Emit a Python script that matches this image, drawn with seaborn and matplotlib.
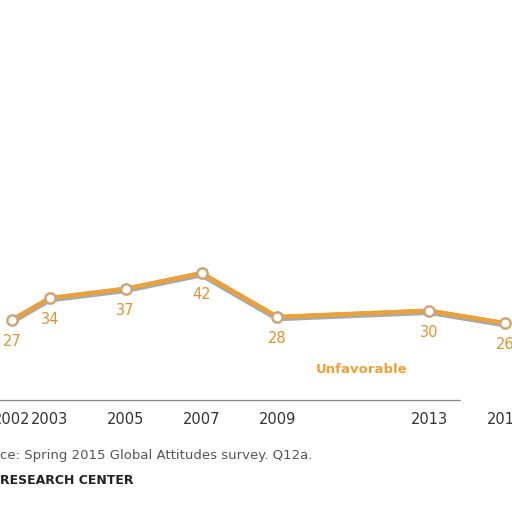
import matplotlib
matplotlib.use("Agg")
import matplotlib.pyplot as plt
import seaborn as sns
import pandas as pd

years = [2002, 2003, 2005, 2007, 2009, 2013, 2015]
unfavorable = [27, 34, 37, 42, 28, 30, 26]
tick_labels = ["2002", "2003", "2005", "2007", "2009", "2013", "2015"]

sns.set_style("white")
plt.rcParams['font.family'] = ['DejaVu Sans']

fig = plt.figure(figsize=(5.12, 5.12), dpi=100)
ax = fig.add_axes([0, 0, 1, 1])
df = pd.DataFrame({"year": years, "val": unfavorable})

ax.plot(df["year"], df["val"] - 0.4, color="#a9a9a9", lw=4.5, zorder=2)
sns.lineplot(data=df, x="year", y="val", ax=ax, color="#e9a23b", lw=3.2, zorder=3)
ax.scatter(df["year"], df["val"], s=55, color="white", edgecolor="#c9a77a", lw=1.8, zorder=4)

for x, v, lab in zip(years, unfavorable, tick_labels):
    ax.text(x, v - 4.5, str(v), ha="center", va="top", fontsize=10.5, color="#d6953a")
    ax.text(x, -2.5, lab, ha="center", va="top", fontsize=10.5, color="#333333")

ax.text(2010.0, 11.3, "Unfavorable", ha="left", va="center", fontsize=9.5,
        color="#e9a23b", fontweight="bold")
ax.plot([2001.6, 2013.8], [1.5, 1.5], color="#888888", lw=0.9)
ax.text(2001.69, -16.3, "ce: Spring 2015 Global Attitudes survey. Q12a.", fontsize=9.5,
        color="#555555", va="center")
ax.text(2001.69, -24.2, "RESEARCH CENTER", fontsize=9, color="#222222",
        fontweight="bold", va="center")

ax.set_xlim(2001.69, 2015.18)
ax.set_ylim(-34.3, 129.2)
ax.axis("off")
fig.savefig("out.png", dpi=100)
